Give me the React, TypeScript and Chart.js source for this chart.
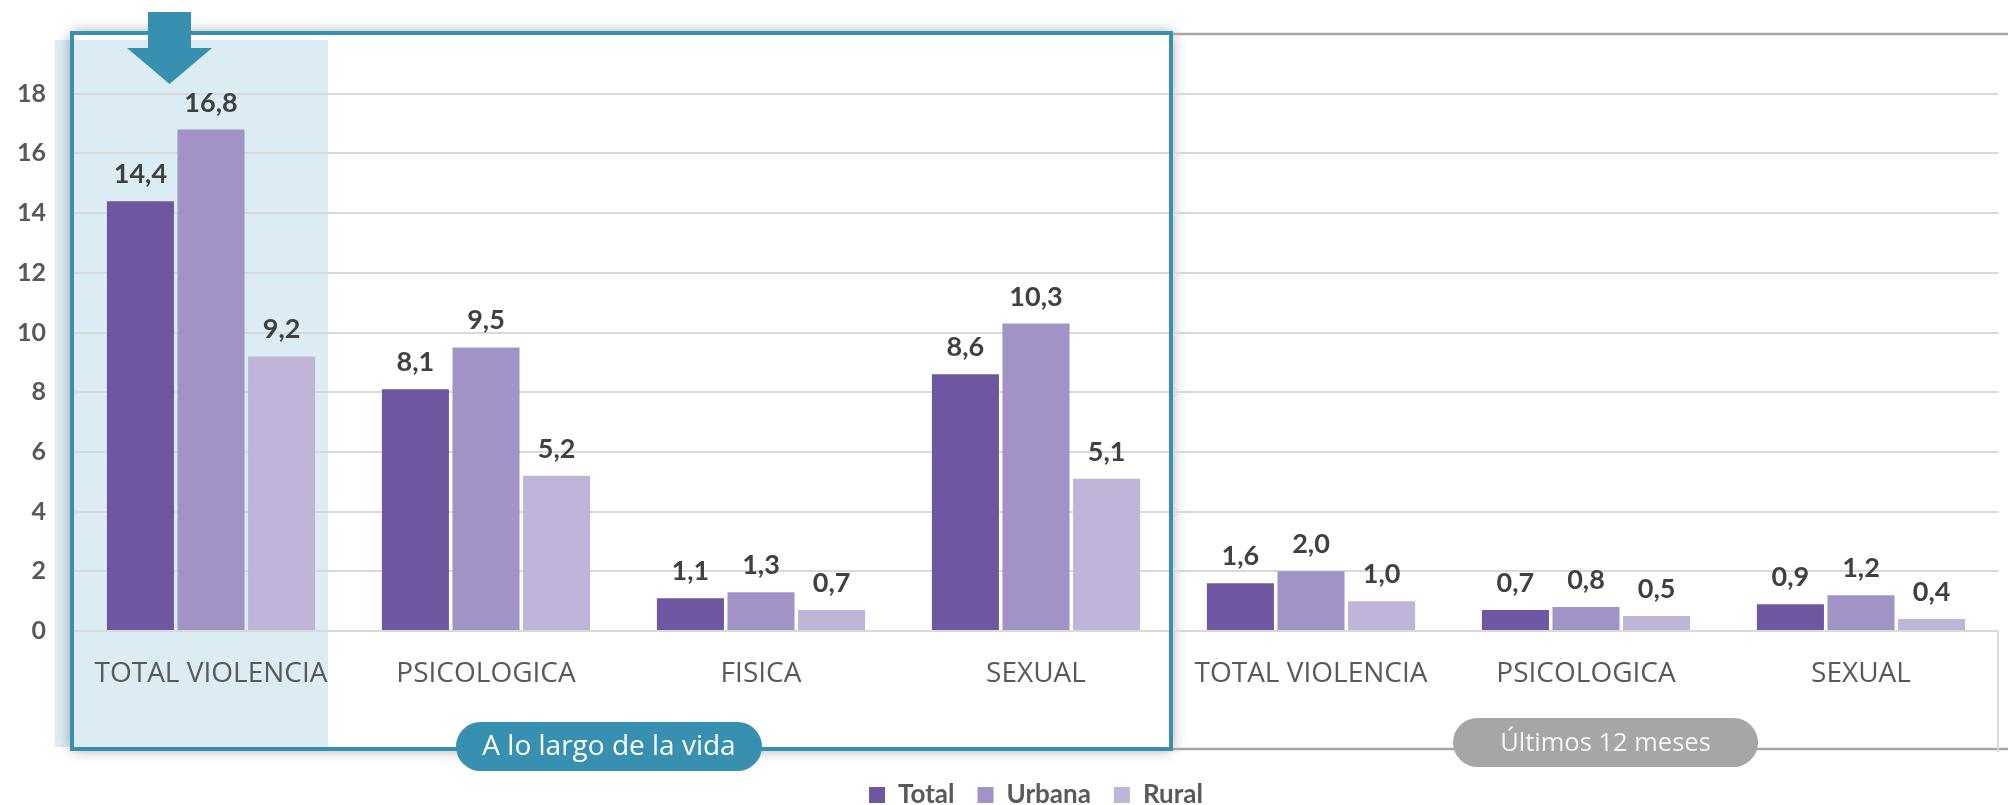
import React, { useEffect, useRef } from "react";
import { Chart, registerables } from "chart.js";

Chart.register(...registerables);

// ---- data ----
const categories = [
  "TOTAL VIOLENCIA",
  "PSICOLOGICA",
  "FISICA",
  "SEXUAL",
  "TOTAL VIOLENCIA",
  "PSICOLOGICA",
  "SEXUAL",
];
const totalValues = [14.4, 8.1, 1.1, 8.6, 1.6, 0.7, 0.9];
const urbanaValues = [16.8, 9.5, 1.3, 10.3, 2.0, 0.8, 1.2];
const ruralValues = [9.2, 5.2, 0.7, 5.1, 1.0, 0.5, 0.4];
const seriesNames = ["Total", "Urbana", "Rural"];
const groupLabels = ["A lo largo de la vida", "Últimos 12 meses"];
const groupFirstIndex = [0, 4];
const groupLastIndex = [3, 6];
const yMax = 20;
const yStep = 2;

// ---- styles ----
const COLORS = ["#6e57a0", "#a293c7", "#bfb5d8"];
const TEAL = "#3790b0";
const GRAY_PILL = "#a6a6a6";
const LABEL_FONT = "Lato";
const SANS_FONT = "'Open Sans'";

function roundRect(ctx: CanvasRenderingContext2D, cx: number, cy: number, w: number, h: number) {
  const r = h / 2;
  const x = cx - w / 2;
  const y = cy - h / 2;
  ctx.beginPath();
  ctx.moveTo(x + r, y);
  ctx.lineTo(x + w - r, y);
  ctx.arc(x + w - r, y + r, r, -Math.PI / 2, Math.PI / 2);
  ctx.lineTo(x + r, y + h);
  ctx.arc(x + r, y + r, r, Math.PI / 2, (3 * Math.PI) / 2);
  ctx.closePath();
}

function frame(chart: any) {
  const { chartArea, scales } = chart;
  const xs = scales.x;
  const p0 = xs.getPixelForValue(groupFirstIndex[0]);
  const p3 = xs.getPixelForValue(groupLastIndex[0]);
  const p4 = xs.getPixelForValue(groupFirstIndex[1]);
  const p6 = xs.getPixelForValue(groupLastIndex[1]);
  return {
    p0,
    p3,
    p4,
    p6,
    boxL: chartArea.left - 1.5,
    boxT: chartArea.top - 1,
    boxR: (p3 + p4) / 2 - 2.5,
    boxB: chartArea.bottom + 118,
  };
}

const decorPlugin = {
  id: "decor",
  beforeDraw(chart: any) {
    const { ctx, chartArea } = chart;
    const { p0, boxL, boxT, boxR, boxB } = frame(chart);
    ctx.save();
    // highlighted first category
    ctx.fillStyle = "#dbecf3";
    const hL = chartArea.left - 18.5;
    const hT = chartArea.top + 6;
    ctx.fillRect(hL, hT, p0 + 117 - hL, boxB - 2 - hT);
    // outer shadow of the framed box
    ctx.beginPath();
    ctx.rect(0, 0, chart.width, chart.height);
    ctx.rect(boxL, boxT, boxR - boxL, boxB - boxT);
    ctx.clip("evenodd");
    ctx.shadowColor = "rgba(0,0,0,0.4)";
    ctx.shadowBlur = 14;
    ctx.fillStyle = "#ffffff";
    ctx.fillRect(boxL, boxT, boxR - boxL, boxB - boxT);
    ctx.restore();
  },
  afterDatasetsDraw(chart: any) {
    const { ctx } = chart;
    ctx.save();
    ctx.font = `bold 27px ${LABEL_FONT}`;
    ctx.fillStyle = "#404040";
    ctx.textAlign = "center";
    ctx.textBaseline = "alphabetic";
    chart.data.datasets.forEach((ds: any, i: number) => {
      const meta = chart.getDatasetMeta(i);
      meta.data.forEach((bar: any, j: number) => {
        const v = ds.data[j] as number;
        ctx.fillText(v.toFixed(1).replace(".", ","), bar.x, bar.y - 18);
      });
    });
    ctx.restore();
  },
  afterDraw(chart: any) {
    const { ctx, chartArea } = chart;
    const { p0, p3, p4, p6, boxL, boxT, boxR, boxB } = frame(chart);
    ctx.save();
    // right-hand frame lines
    ctx.strokeStyle = "#a6a6a6";
    ctx.lineWidth = 2.5;
    ctx.beginPath();
    ctx.moveTo(boxR, chartArea.top);
    ctx.lineTo(chart.width, chartArea.top);
    ctx.moveTo(boxR, boxB);
    ctx.lineTo(chart.width, boxB);
    ctx.stroke();
    ctx.strokeStyle = "#d9d9d9";
    ctx.lineWidth = 2;
    ctx.beginPath();
    ctx.moveTo(chartArea.right - 0.5, chartArea.bottom);
    ctx.lineTo(chartArea.right - 0.5, boxB + 3);
    ctx.stroke();
    // teal frame
    ctx.strokeStyle = TEAL;
    ctx.lineWidth = 4;
    ctx.strokeRect(boxL, boxT, boxR - boxL, boxB - boxT);
    // arrow
    const ac = p0 - 41.5;
    ctx.fillStyle = TEAL;
    ctx.fillRect(ac - 21.5, chartArea.top - 22, 43, 37);
    ctx.beginPath();
    ctx.moveTo(ac - 42.5, chartArea.top + 14);
    ctx.lineTo(ac + 42.5, chartArea.top + 14);
    ctx.lineTo(ac, chartArea.top + 50);
    ctx.closePath();
    ctx.fill();
    // group pills
    const pills = [
      { cx: (p0 + p3) / 2 - 14.5, cy: boxB - 2.5, w: 306, fill: TEAL, text: "#ffffff", size: 28 },
      { cx: (p4 + p6) / 2 + 19.5, cy: boxB - 6.5, w: 305, fill: GRAY_PILL, text: "#f4f4f4", size: 25.5 },
    ];
    pills.forEach((p, i) => {
      roundRect(ctx, p.cx, p.cy, p.w, 49);
      ctx.fillStyle = p.fill;
      ctx.fill();
      ctx.fillStyle = p.text;
      ctx.font = `${p.size}px ${SANS_FONT}`;
      ctx.textAlign = "center";
      ctx.textBaseline = "middle";
      ctx.fillText(groupLabels[i], p.cx, p.cy + 1);
    });
    ctx.restore();
  },
};

export default function App() {
  const ref = useRef<HTMLCanvasElement | null>(null);
  useEffect(() => {
    if (!ref.current) return;
    const chart = new Chart(ref.current, {
      type: "bar",
      data: {
        labels: categories,
        datasets: [totalValues, urbanaValues, ruralValues].map((vals, i) => ({
          label: seriesNames[i],
          data: vals,
          backgroundColor: COLORS[i],
          categoryPercentage: 0.77,
          barPercentage: 0.95,
        })),
      },
      options: {
        animation: false,
        responsive: false,
        devicePixelRatio: 1,
        layout: { padding: { top: 34, right: 9.5, left: 0, bottom: 0 } },
        plugins: {
          tooltip: { enabled: false },
          legend: {
            position: "bottom",
            fullSize: false,
            maxHeight: 46,
            labels: {
              boxWidth: 16,
              boxHeight: 16,
              padding: 23,
              color: "#595959",
              font: { family: LABEL_FONT, weight: "bold", size: 26 },
            },
          },
        },
        scales: {
          x: {
            grid: { display: false, drawTicks: false },
            border: { display: false },
            ticks: {
              color: "#595959",
              padding: 26,
              maxRotation: 0,
              autoSkip: false,
              font: { family: "Open Sans", size: 28 },
            },
            afterFit: (s: any) => {
              s.height = 128;
            },
          },
          y: {
            min: 0,
            max: yMax,
            grid: {
              color: "#d9d9d9",
              lineWidth: 2,
              drawTicks: true,
              tickLength: 27.5,
              tickColor: "rgba(0,0,0,0)",
            },
            border: { display: false },
            ticks: {
              stepSize: yStep,
              padding: 0,
              color: "#595959",
              font: { family: LABEL_FONT, weight: "bold", size: 25 },
              callback: (v: any) => (Number(v) === yMax ? "" : String(v)),
            },
            afterFit: (s: any) => {
              s.width = 73.5;
            },
          },
        },
      },
      plugins: [decorPlugin],
    });
    return () => chart.destroy();
  }, []);
  return (
    <div style={{ position: "fixed", left: 0, top: 0, width: 2008, height: 805, background: "#ffffff" }}>
      <canvas ref={ref} width={2008} height={805} style={{ width: 2008, height: 805 }} />
    </div>
  );
}
